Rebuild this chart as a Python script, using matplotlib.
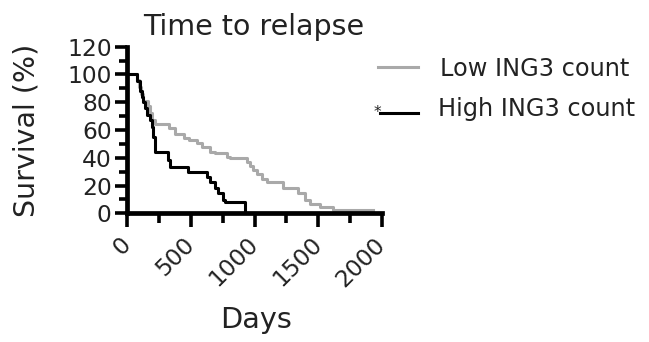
import matplotlib
matplotlib.use("Agg")
import matplotlib.pyplot as plt
from matplotlib.lines import Line2D
from matplotlib.ticker import MultipleLocator

# ---- data ----
low_days = [0, 72, 90, 106, 122, 161, 177, 193, 216, 327, 374, 445, 480, 547, 584,
            649, 688, 780, 806, 938, 964, 990, 1019, 1056, 1095, 1223, 1341, 1393,
            1432, 1515, 1617, 1932]
low_surv = [100, 96, 91, 86, 81, 77, 72, 67, 64, 61.5, 57, 54, 52.5, 50.4, 48,
            44.4, 43.2, 40.8, 39.6, 37, 34, 31, 28, 25, 22.8, 18, 14.4, 9.6,
            6.5, 4.5, 2.5, 2.5]
high_days = [0, 72, 98, 112, 124, 138, 151, 177, 190, 203, 216, 321, 334, 478, 623,
             649, 689, 715, 754, 767, 925, 1515]
high_surv = [100, 95, 88, 84, 80, 76, 71, 67, 62, 55, 44, 38.4, 33.6, 30, 26.4,
             22.8, 18, 14.4, 9.6, 8.4, 0, 0]
series_labels = ["Low ING3 count", "High ING3 count"]
x_ticks = [0, 500, 1000, 1500, 2000]
y_ticks = [0, 20, 40, 60, 80, 100, 120]

TXT = "#222222"
GRAY = "#a9a9a9"
W, H = 649, 342

plt.rcParams['font.family'] = ['DejaVu Sans']
fig = plt.figure(figsize=(W / 100, H / 100), dpi=100)
ax = fig.add_axes([127.5 / W, 1 - 213.3 / H, 254.2 / W, 166.6 / H])

ax.step(low_days, low_surv, where='post', color=GRAY, lw=2.2, clip_on=False, zorder=3)
ax.step(high_days, high_surv, where='post', color='black', lw=2.2, clip_on=False, zorder=4)

ax.set_xlim(0, 2000)
ax.set_ylim(0, 120)
ax.set_xticks(x_ticks)
ax.set_yticks(y_ticks)
ax.xaxis.set_minor_locator(MultipleLocator(250))
ax.yaxis.set_minor_locator(MultipleLocator(10))

for s in ['top', 'right']:
    ax.spines[s].set_visible(False)
for s in ['left', 'bottom']:
    ax.spines[s].set_linewidth(3.4)
    ax.spines[s].set_color('black')
    ax.spines[s].set_capstyle('projecting')
    ax.spines[s].set_zorder(5)

ax.tick_params(axis='both', which='both', direction='out', color='black', width=2.6)
ax.tick_params(axis='x', which='major', length=10, pad=10, labelsize=16.8, labelcolor=TXT)
ax.tick_params(axis='x', which='minor', length=7)
ax.tick_params(axis='y', which='major', length=9, pad=2.4, labelsize=16.8, labelcolor=TXT)
ax.tick_params(axis='y', which='minor', length=5.5)

for lab in ax.get_xticklabels():
    lab.set_rotation(45)
    lab.set_ha('right')
    lab.set_va('center')
    lab.set_rotation_mode('anchor')

# titles / labels
fig.text(254 / W, 1 - 35 / H, "Time to relapse", ha='center', va='baseline',
         fontsize=20.5, color=TXT)
fig.text(256 / W, 1 - 328 / H, "Days", ha='center', va='baseline',
         fontsize=20.7, color=TXT)
fig.text(26.5 / W, 1 - 130 / H, "Survival (%)", ha='center', va='center',
         rotation=90, fontsize=20.5, color=TXT)

# legend (manual)
fig.add_artist(Line2D([378 / W, 418 / W], [1 - 66.7 / H, 1 - 66.7 / H],
                      color=GRAY, lw=2.2, transform=fig.transFigure))
fig.add_artist(Line2D([380 / W, 418 / W], [1 - 113 / H, 1 - 113 / H],
                      color='black', lw=2.2, transform=fig.transFigure))
fig.text(440 / W, 1 - 68.5 / H, series_labels[0], ha='left', va='center',
         fontsize=17.3, color=TXT)
fig.text(438 / W, 1 - 109 / H, series_labels[1], ha='left', va='center',
         fontsize=17.3, color=TXT)
fig.text(377.5 / W, 1 - 112 / H, "*", ha='center', va='center', fontsize=11, color=TXT)

fig.savefig("out.png", dpi=100)
